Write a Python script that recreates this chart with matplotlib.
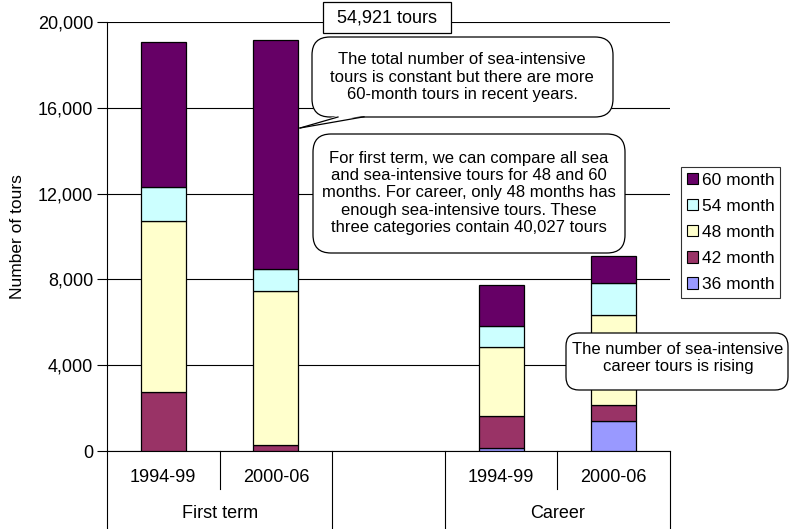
import matplotlib
matplotlib.use('Agg')
import matplotlib.pyplot as plt
from matplotlib.patches import FancyBboxPatch, Polygon, Rectangle, Patch
from matplotlib.lines import Line2D
import matplotlib.transforms as mtrans

plt.rcParams['font.family'] = ['Liberation Sans', 'DejaVu Sans']

# ---------------- data ----------------
year_labels = ['1994-99', '2000-06', '1994-99', '2000-06']
slot_positions = [0, 1, 3, 4]          # slot 2 is an empty spacer
group_labels = ['First term', 'Career']
group_centers = [0.5, 3.5]

series_names = ['36 month', '42 month', '48 month', '54 month', '60 month']
m36 = [0, 0, 120, 1400]
m42 = [2750, 280, 1500, 750]
m48 = [7950, 7190, 3230, 4190]
m54 = [1600, 1010, 980, 1480]
m60 = [6750, 10670, 1900, 1270]
series_values = [m36, m42, m48, m54, m60]
series_colors = ['#9999FF', '#993366', '#FFFFCC', '#CCFFFF', '#660066']

y_ticks = [0, 4000, 8000, 12000, 16000, 20000]

total_text = '54,921 tours'
note1 = ('The total number of sea-intensive\n'
         'tours is constant but there are more\n'
         '60-month tours in recent years.')
note2 = ('For first term, we can compare all sea\n'
         'and sea-intensive tours for 48 and 60\n'
         'months. For career, only 48 months has\n'
         'enough sea-intensive tours. These\n'
         'three categories contain 40,027 tours')
note3 = 'The number of sea-intensive\ncareer tours is rising'

# ---------------- figure ----------------
W, H = 791, 529
fig = plt.figure(figsize=(W / 100, H / 100), dpi=100)


def fx(px):
    return px / W


def fy(py):
    return 1 - py / H


def P(x, y):
    # pixel (top-left origin) -> inches for dpi_scale_trans
    return (x / 100, (H - y) / 100)


ax = fig.add_axes([fx(107), fy(451), (670 - 107) / W, (451 - 22) / H])

bottom = [0, 0, 0, 0]
for name, vals, col in zip(series_names, series_values, series_colors):
    ax.bar(slot_positions, vals, width=0.4, bottom=bottom, color=col,
           edgecolor='black', linewidth=0.9, zorder=3, label=name)
    bottom = [b + v for b, v in zip(bottom, vals)]

ax.set_xlim(-0.5, 4.5)
ax.set_ylim(0, 20000)
ax.set_yticks(y_ticks)
ax.set_yticklabels([f'{t:,}' for t in y_ticks])
ax.yaxis.grid(True, color='black', linewidth=0.8)
ax.set_axisbelow(True)
for s in ['top', 'right']:
    ax.spines[s].set_visible(False)
for s in ['left', 'bottom']:
    ax.spines[s].set_color('black')
    ax.spines[s].set_linewidth(0.8)
ax.tick_params(axis='x', length=0, labelbottom=False)
ax.tick_params(axis='y', direction='out', length=7, width=0.8,
               labelsize=13, pad=3, colors='black')

fig.text(fx(18), fy(237), 'Number of tours', rotation=90, ha='center',
         va='center', fontsize=12.5)

# category axis (two levels)
bt = mtrans.blended_transform_factory(ax.transData, fig.transFigure)
for xb in [-0.5, 1.5, 2.5, 4.5]:
    fig.add_artist(Line2D([xb, xb], [fy(451), 0.0], color='black', lw=0.8,
                          transform=bt))
for xb in [0.5, 3.5]:
    fig.add_artist(Line2D([xb, xb], [fy(451), fy(489)], color='black', lw=0.8,
                          transform=bt))
for pos, lab in zip(slot_positions, year_labels):
    fig.text(pos, fy(477), lab, transform=bt, ha='center', va='center',
             fontsize=13)
for pos, lab in zip(group_centers, group_labels):
    fig.text(pos, fy(513), lab, transform=bt, ha='center', va='center',
             fontsize=13)

# legend
handles = [Patch(facecolor=c, edgecolor='black', linewidth=0.8, label=n)
           for n, c in zip(series_names, series_colors)][::-1]
leg = ax.legend(handles=handles, loc='upper left',
                bbox_to_anchor=(fx(681), fy(167)), bbox_transform=fig.transFigure,
                borderaxespad=0, frameon=True, fancybox=False, fontsize=12.5,
                handlelength=0.65, handleheight=0.65, handletextpad=0.25,
                labelspacing=0.64, borderpad=0.32)
leg.get_frame().set_edgecolor('black')
leg.get_frame().set_linewidth(0.8)
leg.set_zorder(10)

tr = fig.dpi_scale_trans


def rbox(x0, y0, x1, y1, r):
    (ax0, ay1) = P(x0, y1)
    w = (x1 - x0) / 100
    h = (y1 - y0) / 100
    p = FancyBboxPatch((ax0, ay1), w, h,
                       boxstyle=f'round,pad=0,rounding_size={r / 100}',
                       facecolor='white', edgecolor='black', linewidth=0.9,
                       transform=tr, zorder=5)
    fig.add_artist(p)


# total box
(bx, by) = P(323, 33)
fig.add_artist(Rectangle((bx, by), (451 - 323) / 100, (33 - 2) / 100,
                         facecolor='white', edgecolor='black', linewidth=0.9,
                         transform=tr, zorder=5))
fig.text(*P(387, 18), total_text, transform=tr, ha='center', va='center',
         fontsize=13, zorder=6)

# callout 1 with pointer
rbox(312, 37, 613, 117, 18)
fig.add_artist(Polygon([P(300, 128), P(338, 115.5), P(364, 115.5)],
                       closed=True, facecolor='white', edgecolor='none',
                       transform=tr, zorder=6))
fig.add_artist(Line2D(*zip(P(364, 116.8), P(300, 128)), color='black', lw=0.9,
                      transform=tr, zorder=7))
fig.add_artist(Line2D(*zip(P(300, 128), P(338, 117)), color='black', lw=0.9,
                      transform=tr, zorder=7))
fig.text(*P(462, 77), note1, transform=tr, ha='center', va='center',
         fontsize=12, linespacing=1.2, zorder=8)

# callout 2
rbox(313, 134, 625, 253, 18)
fig.text(*P(469, 193), note2, transform=tr, ha='center', va='center',
         fontsize=12, linespacing=1.2, zorder=8)

# callout 3
rbox(566, 333, 788, 390, 13)
fig.text(*P(678, 358), note3, transform=tr, ha='center', va='center',
         fontsize=12, linespacing=1.2, zorder=8)

fig.savefig('out.png', dpi=100)
